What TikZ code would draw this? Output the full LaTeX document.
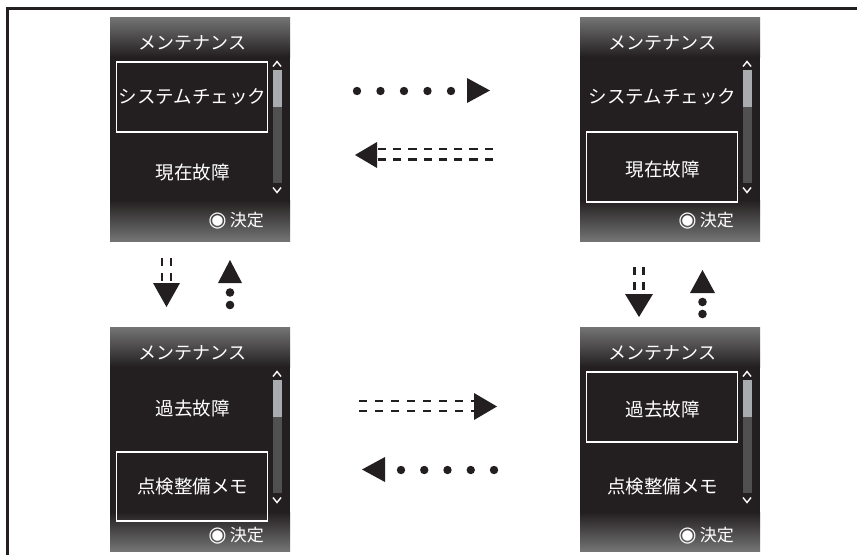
\documentclass[tikz,border=0pt]{standalone}
\usepackage{fontspec}
\newfontfamily\jp{Noto Sans CJK JP}
\newfontfamily\dvs{DejaVu Sans}
\usetikzlibrary{calc}
\definecolor{ink}{HTML}{231F20}
\definecolor{panelbg}{HTML}{231F20}
\definecolor{gtop}{HTML}{747474}
\definecolor{gbot}{HTML}{747474}
\definecolor{track}{HTML}{505050}
\definecolor{thumb}{HTML}{A9ACAE}
\tikzset{
  scrtext/.style={text=white, inner sep=0pt, font=\jp\fontsize{18.5}{18.5}\selectfont},
  titletext/.style={text=white, inner sep=0pt, font=\jp\fontsize{18}{18}\selectfont},
  selbox/.style={draw=white, line width=1.8pt},
  caret/.style={draw=white, line width=1.4pt},
  tri/.style={fill=ink},
  dotmark/.style={fill=ink},
  ddash/.style={draw=ink, line width=2.8pt},
}
% #1 name, #2 x0, #3 y0, #4 item1, #5 item2, #6 y1, #7 y2, #8 box top, #9 box bottom
\newcommand\drawscreen[9]{%
\begin{scope}[shift={(#2,#3)}]
  \node[name=#1, minimum width=180pt, minimum height=224pt, inner sep=0pt, anchor=north west, fill=panelbg] at (0,0) {};
  \shade[top color=gtop, bottom color=panelbg] (0,0) rectangle (180,40);
  \shade[top color=panelbg, bottom color=gbot] (0,\bandtop) rectangle (180,224);
  \node[titletext, name=#1-title] at (82.5,25.5) {メンテナンス};
  \fill[track] (162.5,53) rectangle (171.5,165.5);
  \fill[thumb] (162.5,53) rectangle (171.5,90);
  \draw[caret] (163,49.5) -- (167,44.5) -- (171,49.5);
  \draw[caret] (163,170.5) -- (167,175.5) -- (171,170.5);
  \draw[selbox] (6.5,#8) rectangle (157.5,#9);
  \node[scrtext, name=#1-a] at (82.5,#6) {#4};
  \node[scrtext, name=#1-b] at (82.5,#7) {#5};
  \node[text=white, inner sep=0pt, anchor=east, name=#1-ok] at (154,\btny)
     {{\dvs\fontsize{21}{21}\selectfont ◉}\hspace{3pt}{\jp\fontsize{17}{17}\selectfont 決定}};
\end{scope}}
\begin{document}
\begin{tikzpicture}[x=1pt,y=-1pt]
\useasboundingbox (0,0) rectangle (857,555);
% frame
\coordinate (fbl) at (7.5,555);
\coordinate (ftl) at (7.5,8);
\coordinate (ftr) at (857,8);
\draw[ink, line width=3pt] (fbl) -- (ftl) -- (ftr);

% screens
\def\bandtop{183}\def\btny{204}
\drawscreen{TL}{110}{17}{システムチェック}{現在故障}{80}{156}{45}{115}
\drawscreen{TR}{580}{17}{システムチェック}{現在故障}{80}{153}{115}{185}
\def\bandtop{185}\def\btny{209}
\drawscreen{BL}{110}{327}{過去故障}{点検整備メモ}{82}{160}{125}{194}
\drawscreen{BR}{580}{327}{過去故障}{点検整備メモ}{83}{160}{45}{115}

% top: dotted arrow TL -> TR
\coordinate (d1s) at (357,91);
\coordinate (d1e) at (451,91);
\foreach \i in {0,...,4} \fill[dotmark] ($(d1s)!\i/4!(d1e)$) circle (4.2);
\coordinate (t1) at (490,90.5);
\fill[tri] (t1) -- ++(-23,-12.5) -- ++(0,25) -- cycle;

% top: double dashed arrow TR -> TL
\coordinate (e1s) at (493,154.2);
\coordinate (t2) at (355,155);
\draw[ddash, dash pattern=on 8.3pt off 7pt] ($(e1s)+(0,-5.2)$) -- (378,149);
\draw[ddash, dash pattern=on 8.3pt off 7pt] ($(e1s)+(0,5.3)$) -- (378,159.5);
\fill[tri] (t2) -- ++(22,-13) -- ++(0,26) -- cycle;

% left: double dashed down TL -> BL
\draw[ddash, dash pattern=on 7.5pt off 7.5pt] (162,258) -- (162,284);
\draw[ddash, dash pattern=on 7.5pt off 7.5pt] (171,258) -- (171,284);
\coordinate (t3) at (166.5,307);
\fill[tri] (t3) -- ++(-13.5,-24) -- ++(27,0) -- cycle;

% left: dotted up BL -> TL
\coordinate (t4) at (230,260);
\fill[tri] (t4) -- ++(-12,23) -- ++(24,0) -- cycle;
\fill[dotmark] (230,292.5) circle (4.3);
\fill[dotmark] (230,305) circle (4.3);

% right: double dashed down TR -> BR
\draw[ddash, dash pattern=on 8pt off 7pt] (634.5,267) -- (634.5,295);
\draw[ddash, dash pattern=on 8pt off 7pt] (643.5,267) -- (643.5,295);
\coordinate (t5) at (639,317);
\fill[tri] (t5) -- ++(-14,-23) -- ++(28,0) -- cycle;

% right: dotted up BR -> TR
\coordinate (t6) at (702.5,270);
\fill[tri] (t6) -- ++(-12.5,23) -- ++(25,0) -- cycle;
\fill[dotmark] (702.5,302) circle (4.3);
\fill[dotmark] (702.5,314) circle (4.3);

% bottom: double dashed arrow BL -> BR
\draw[ddash, dash pattern=on 8pt off 8pt] (359,401) -- (480,401);
\draw[ddash, dash pattern=on 8pt off 8pt] (359,411) -- (480,411);
\coordinate (t7) at (497,406.5);
\fill[tri] (t7) -- ++(-23,-13.5) -- ++(0,27) -- cycle;

% bottom: dotted arrow BR -> BL
\coordinate (d2s) at (401,470);
\coordinate (d2e) at (494,470);
\foreach \i in {0,...,4} \fill[dotmark] ($(d2s)!\i/4!(d2e)$) circle (4.2);
\coordinate (t8) at (362,469.5);
\fill[tri] (t8) -- ++(23,-12.5) -- ++(0,25) -- cycle;
\end{tikzpicture}
\end{document}
